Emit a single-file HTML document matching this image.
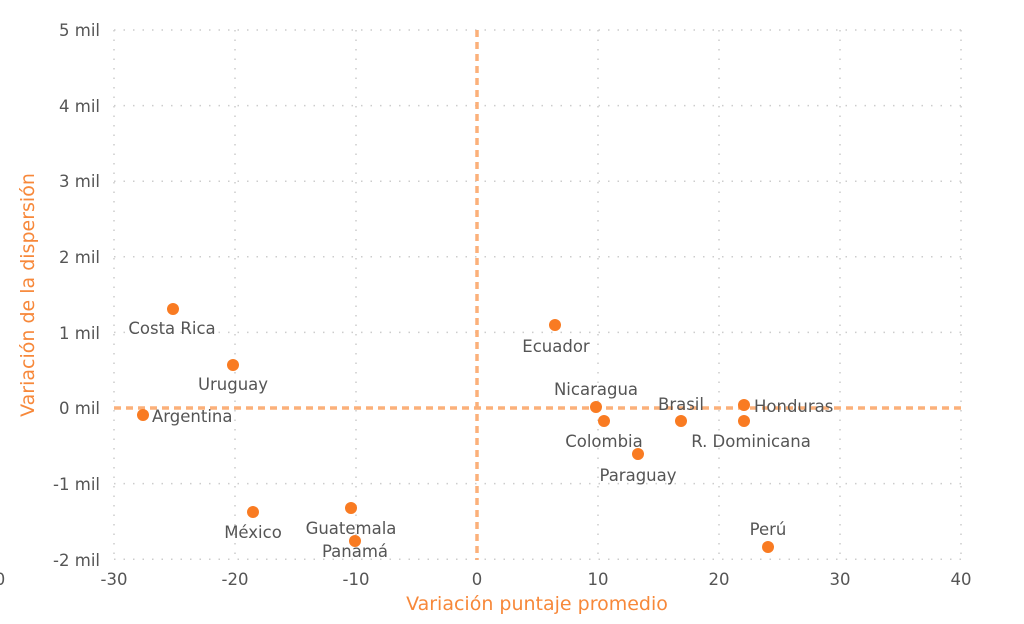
<!DOCTYPE html>
<html><head><meta charset="utf-8"><style>
body{margin:0;background:#fff;}
svg{display:block;font-family:"DejaVu Sans","Liberation Sans",sans-serif;}
.t{font-size:16.5px;fill:#555;}
.l{font-size:16.5px;fill:#555;}
</style></head><body>
<svg width="1024" height="624" viewBox="0 0 1024 624">
<g stroke="#ccc" stroke-width="1.5" stroke-dasharray="1.5 8">
<line x1="114" y1="30" x2="114" y2="560"/><line x1="235" y1="30" x2="235" y2="560"/><line x1="356" y1="30" x2="356" y2="560"/><line x1="598" y1="30" x2="598" y2="560"/><line x1="719" y1="30" x2="719" y2="560"/><line x1="840" y1="30" x2="840" y2="560"/><line x1="961" y1="30" x2="961" y2="560"/>
<line x1="114" y1="30" x2="961" y2="30"/><line x1="114" y1="105.6" x2="961" y2="105.6"/><line x1="114" y1="181.2" x2="961" y2="181.2"/><line x1="114" y1="256.8" x2="961" y2="256.8"/><line x1="114" y1="332.4" x2="961" y2="332.4"/><line x1="114" y1="483.6" x2="961" y2="483.6"/><line x1="114" y1="559.2" x2="961" y2="559.2"/>
</g>
<g stroke="#fbb07a" stroke-width="3.5" stroke-dasharray="7 5">
<line x1="477" y1="30" x2="477" y2="560"/><line x1="114" y1="408" x2="961" y2="408"/>
</g>
<g class="t" text-anchor="end">
<text x="100" y="36">5 mil</text><text x="100" y="112">4 mil</text><text x="100" y="187">3 mil</text><text x="100" y="263">2 mil</text><text x="100" y="339">1 mil</text><text x="100" y="414">0 mil</text><text x="100" y="490">-1 mil</text><text x="100" y="566">-2 mil</text>
</g>
<g class="t" text-anchor="middle">
<text x="114" y="585">-30</text><text x="235" y="585">-20</text><text x="356" y="585">-10</text><text x="477" y="585">0</text><text x="598" y="585">10</text><text x="719" y="585">20</text><text x="840" y="585">30</text><text x="961" y="585">40</text>
<text x="0" y="585">0</text>
</g>
<text x="537" y="610" text-anchor="middle" font-size="19" fill="#f7883a">Variación puntaje promedio</text>
<text transform="translate(34,295) rotate(-90)" text-anchor="middle" font-size="19" fill="#f7883a">Variación de la dispersión</text>
<g fill="#f97b22">
<circle cx="173" cy="309" r="6"/><circle cx="233" cy="365" r="6"/><circle cx="143" cy="415" r="6"/><circle cx="253" cy="512" r="6"/><circle cx="351" cy="508" r="6"/><circle cx="355" cy="541" r="6"/><circle cx="555" cy="325" r="6"/><circle cx="596" cy="407" r="6"/><circle cx="604" cy="421" r="6"/><circle cx="638" cy="454" r="6"/><circle cx="681" cy="421" r="6"/><circle cx="744" cy="405" r="6"/><circle cx="744" cy="421" r="6"/><circle cx="768" cy="547" r="6"/>
</g>
<g class="l" text-anchor="middle">
<text x="172" y="334">Costa Rica</text><text x="233" y="390">Uruguay</text><text x="253" y="538">México</text><text x="351" y="534">Guatemala</text><text x="355" y="557">Panamá</text><text x="556" y="352">Ecuador</text><text x="596" y="395">Nicaragua</text><text x="604" y="447">Colombia</text><text x="638" y="481">Paraguay</text><text x="681" y="410">Brasil</text><text x="751" y="447">R. Dominicana</text><text x="768" y="535">Perú</text>
</g>
<g class="l"><text x="152" y="422">Argentina</text><text x="754" y="412">Honduras</text></g>
</svg>
</body></html>
